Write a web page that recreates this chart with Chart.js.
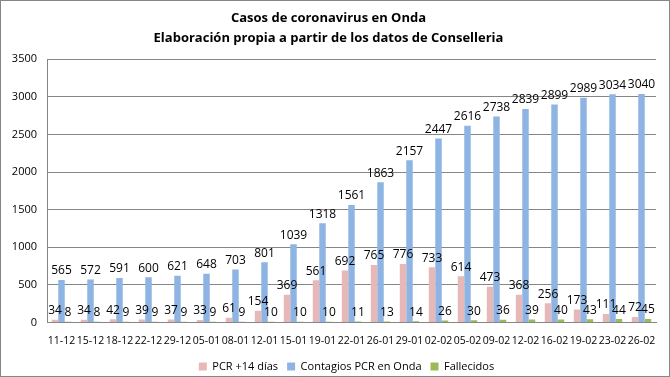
<!DOCTYPE html>
<html>
<head>
<meta charset="utf-8">
<script src="https://cdn.jsdelivr.net/npm/chart.js@4/dist/chart.umd.min.js"></script>
<style>
  html, body { margin: 0; padding: 0; background: #fff; }
  #wrap { width: 668px; height: 375px; border: 1px solid #868686; position: relative; overflow: hidden; }
</style>
</head>
<body>
<div id="wrap"><canvas id="chart" width="668" height="375"></canvas></div>
<script>
const fechas = ['11-12','15-12','18-12','22-12','29-12','05-01','08-01','12-01','15-01','19-01','22-01',
  '26-01','29-01','02-02','05-02','09-02','12-02','16-02','19-02','23-02','26-02'];
const pcr14 = [34, 34, 42, 39, 37, 33, 61, 154, 369, 561, 692, 765, 776, 733, 614, 473, 368, 256, 173, 111, 72];
const contagios = [565, 572, 591, 600, 621, 648, 703, 801, 1039, 1318, 1561, 1863, 2157, 2447, 2616, 2738, 2839, 2899, 2989, 3034, 3040];
const fallecidos = [8, 8, 9, 9, 9, 9, 9, 10, 10, 10, 11, 13, 14, 26, 30, 36, 39, 40, 43, 44, 45];
const yTicks = [0, 500, 1000, 1500, 2000, 2500, 3000, 3500];

const FONT = '"Open Sans", "Liberation Sans", sans-serif';

// etiquetas encima de cada barra
const barLabels = {
  id: 'barLabels',
  afterLayout(chart) {
    // la leyenda del original queda algo más a la derecha
    chart.legend.left += 18;
    chart.legend.right += 18;
  },
  afterDatasetsDraw(chart) {
    const ctx = chart.ctx;
    ctx.save();
    ctx.font = '12px ' + FONT;
    ctx.fillStyle = '#000';
    ctx.textAlign = 'center';
    ctx.textBaseline = 'bottom';
    chart.data.datasets.forEach((ds, i) => {
      chart.getDatasetMeta(i).data.forEach((bar, j) => {
        ctx.fillText(ds.data[j], bar.x, bar.y - 3);
      });
    });
    ctx.restore();
  }
};

new Chart(document.getElementById('chart'), {
  type: 'bar',
  data: {
    labels: fechas,
    datasets: [
      { label: 'PCR +14 días', data: pcr14, backgroundColor: '#E6B9B8' },
      { label: 'Contagios PCR en Onda', data: contagios, backgroundColor: '#8EB4E3' },
      { label: 'Fallecidos', data: fallecidos, backgroundColor: '#9BBB59' }
    ]
  },
  options: {
    responsive: false,
    animation: false,
    categoryPercentage: 0.67,
    barPercentage: 1,
    layout: { padding: { left: 0, right: 13, top: 6, bottom: -6 } },
    scales: {
      x: {
        grid: { display: false, drawTicks: false },
        border: { color: '#868686' },
        ticks: { color: '#000', font: { size: 10.5, family: FONT }, maxRotation: 0, autoSkip: false, padding: 12 },
        afterFit(axis) { axis.height -= 7; }
      },
      y: {
        min: 0, max: 3500,
        afterBuildTicks(axis) { axis.ticks = yTicks.map(v => ({ value: v })); },
        afterFit(axis) { axis.width = 46; },
        grid: { color: '#868686', drawTicks: false },
        border: { color: '#868686' },
        ticks: { color: '#000', font: { size: 11, family: FONT }, padding: 10, callback: v => String(v) }
      }
    },
    plugins: {
      title: {
        display: true,
        text: ['Casos de coronavirus en Onda', 'Elaboración propia a partir de los datos de Conselleria'],
        color: '#000',
        font: { size: 13, weight: 'bold', family: FONT, lineHeight: 1.55 },
        padding: { top: 1, bottom: 11 }
      },
      legend: {
        position: 'bottom',
        labels: { color: '#000', font: { size: 11, family: FONT }, boxWidth: 8, boxHeight: 8, padding: 9 }
      },
      tooltip: { enabled: false }
    }
  },
  plugins: [barLabels]
});
</script>
</body>
</html>
